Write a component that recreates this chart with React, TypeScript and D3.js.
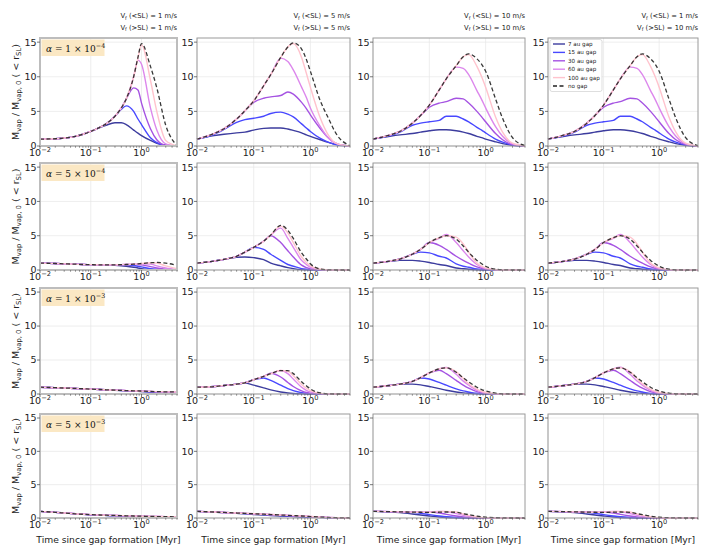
import * as d3 from "d3";

// sample times [Myr] shared by every series
const times = [0.01, 0.02, 0.03, 0.05, 0.07, 0.1, 0.15, 0.2, 0.3, 0.4, 0.5, 0.7, 0.85, 1, 1.5, 2, 3, 5];

const gapNames = ["7 au gap", "15 au gap", "30 au gap", "60 au gap", "100 au gap", "no gap"];
const gapColors = ["#3c3c9e", "#4848ff", "#a553e2", "#dc87ec", "#ffc3cd", "#222222"];

const alphaMant = ["1", "5", "1", "5"];
const alphaExp = ["−4", "−4", "−3", "−3"];
const vfInner = [1, 5, 10, 1];
const vfOuter = [1, 5, 10, 10];

const yTicks = [0, 5, 10, 15];
const xTicks = [0.01, 0.1, 1];
const xTickExp = ["−2", "−1", "0"];

// each panel: [7 au, 15 au, 30 au, 60 au, 100 au, no gap]
// alpha = 1e-4
const r1c1 = [
  [1.0, 1.05, 1.15, 1.4, 1.7, 2.1, 2.65, 3.0, 3.35, 3.35, 3.1, 2.3, 1.85, 1.5, 0.8, 0.4, 0.1, 0],
  [1.0, 1.05, 1.15, 1.4, 1.7, 2.1, 2.7, 3.2, 4.3, 5.3, 5.8, 5.0, 3.9, 3.1, 1.2, 0.5, 0.05, 0],
  [1.0, 1.05, 1.15, 1.4, 1.7, 2.1, 2.7, 3.2, 4.3, 5.5, 6.8, 8.4, 8.1, 6.2, 2.5, 0.9, 0.1, 0],
  [1.0, 1.05, 1.15, 1.4, 1.7, 2.1, 2.7, 3.2, 4.3, 5.5, 6.8, 10.0, 12.4, 11.8, 5.5, 2.3, 0.3, 0],
  [1.0, 1.05, 1.15, 1.4, 1.7, 2.1, 2.7, 3.2, 4.3, 5.5, 6.8, 10.0, 12.7, 14.6, 9.5, 5.0, 0.8, 0.02],
  [1.0, 1.05, 1.15, 1.4, 1.7, 2.1, 2.7, 3.2, 4.3, 5.5, 6.8, 10.0, 12.8, 14.8, 11.5, 8.4, 3.0, 0.05],
];
const r1c2 = [
  [1.0, 1.5, 1.7, 1.9, 2.0, 2.3, 2.55, 2.6, 2.6, 2.45, 2.25, 1.9, 1.6, 1.4, 0.9, 0.55, 0.2, 0.02],
  [1.0, 1.7, 2.4, 3.4, 3.8, 4.0, 4.3, 4.7, 4.9, 4.6, 4.2, 3.2, 2.6, 2.1, 1.1, 0.6, 0.15, 0],
  [1.0, 1.8, 2.5, 3.9, 5.1, 6.3, 6.9, 7.1, 7.3, 7.8, 7.5, 6.3, 5.4, 4.5, 2.5, 1.3, 0.3, 0],
  [1.0, 1.8, 2.5, 3.9, 5.1, 6.5, 8.7, 10.3, 12.7, 12.2, 11.0, 8.5, 7.0, 5.5, 2.8, 1.3, 0.3, 0],
  [1.0, 1.8, 2.5, 3.9, 5.1, 6.5, 8.7, 10.3, 12.8, 14.3, 14.8, 12.8, 10.5, 8.5, 4.0, 1.8, 0.3, 0],
  [1.0, 1.8, 2.5, 3.9, 5.1, 6.5, 8.7, 10.3, 12.8, 14.3, 14.9, 14.0, 12.5, 10.8, 6.5, 4.3, 1.5, 0.05],
];
const r1c3 = [
  [1.0, 1.4, 1.6, 1.8, 2.0, 2.2, 2.35, 2.35, 2.2, 2.0, 1.8, 1.4, 1.2, 1.0, 0.6, 0.35, 0.1, 0],
  [1.0, 1.5, 2.0, 3.0, 3.3, 3.5, 3.7, 4.3, 4.3, 3.9, 3.5, 2.7, 2.3, 1.9, 1.0, 0.55, 0.15, 0],
  [1.0, 1.6, 2.1, 3.3, 4.4, 5.6, 6.2, 6.4, 6.9, 6.8, 6.2, 5.0, 4.2, 3.5, 1.8, 0.9, 0.2, 0],
  [1.0, 1.6, 2.1, 3.3, 4.4, 5.9, 8.1, 9.7, 11.4, 11.2, 10.3, 8.0, 6.7, 5.5, 2.8, 1.4, 0.3, 0],
  [1.0, 1.6, 2.1, 3.3, 4.4, 5.9, 8.1, 9.7, 11.6, 12.9, 13.2, 11.5, 10.0, 8.5, 4.2, 2.0, 0.4, 0],
  [1.0, 1.6, 2.1, 3.3, 4.4, 5.9, 8.1, 9.7, 11.6, 12.9, 13.3, 12.6, 11.8, 10.8, 6.8, 4.0, 1.2, 0.05],
];
const r1c4 = [
  [1.0, 1.4, 1.6, 1.8, 2.0, 2.2, 2.35, 2.35, 2.2, 2.0, 1.8, 1.4, 1.2, 1.0, 0.6, 0.35, 0.1, 0],
  [1.0, 1.5, 2.0, 3.0, 3.3, 3.5, 3.7, 4.3, 4.3, 3.9, 3.5, 2.7, 2.3, 1.9, 1.0, 0.55, 0.15, 0],
  [1.0, 1.6, 2.1, 3.3, 4.4, 5.6, 6.2, 6.4, 6.9, 6.8, 6.2, 5.0, 4.2, 3.5, 1.8, 0.9, 0.2, 0],
  [1.0, 1.6, 2.1, 3.3, 4.4, 5.9, 8.1, 9.7, 11.4, 11.2, 10.3, 8.0, 6.7, 5.5, 2.8, 1.4, 0.3, 0],
  [1.0, 1.6, 2.1, 3.3, 4.4, 5.9, 8.1, 9.7, 11.6, 12.9, 13.2, 11.5, 10.0, 8.5, 4.2, 2.0, 0.4, 0],
  [1.0, 1.6, 2.1, 3.3, 4.4, 5.9, 8.1, 9.7, 11.6, 12.9, 13.3, 12.6, 11.8, 10.8, 6.8, 4.0, 1.2, 0.05],
];

// alpha = 5e-4
const r2c1 = [
  [1.0, 0.95, 0.9, 0.85, 0.8, 0.78, 0.75, 0.74, 0.7, 0.63, 0.55, 0.4, 0.3, 0.2, 0.08, 0.03, 0, 0],
  [1.0, 0.95, 0.9, 0.85, 0.8, 0.78, 0.75, 0.75, 0.75, 0.75, 0.75, 0.65, 0.55, 0.45, 0.2, 0.1, 0.02, 0],
  [1.0, 0.95, 0.9, 0.85, 0.8, 0.78, 0.75, 0.75, 0.75, 0.78, 0.8, 0.82, 0.8, 0.75, 0.5, 0.3, 0.1, 0],
  [1.0, 0.95, 0.9, 0.85, 0.8, 0.78, 0.75, 0.75, 0.75, 0.78, 0.8, 0.85, 0.9, 0.92, 0.85, 0.6, 0.3, 0.05],
  [1.0, 0.95, 0.9, 0.85, 0.8, 0.78, 0.75, 0.75, 0.75, 0.78, 0.8, 0.85, 0.9, 0.95, 1.05, 1.0, 0.6, 0.2],
  [1.0, 0.95, 0.9, 0.85, 0.8, 0.78, 0.75, 0.75, 0.75, 0.78, 0.8, 0.85, 0.9, 0.95, 1.05, 1.1, 1.0, 0.7],
];
const r2c2 = [
  [1.0, 1.3, 1.55, 1.85, 1.9, 1.8, 1.5, 1.0, 0.6, 0.35, 0.2, 0.05, 0.02, 0, 0, 0, 0, 0],
  [1.0, 1.3, 1.55, 2.0, 2.6, 3.3, 3.0, 2.3, 1.4, 0.8, 0.55, 0.2, 0.1, 0.05, 0, 0, 0, 0],
  [1.0, 1.3, 1.55, 2.0, 2.6, 3.3, 4.2, 5.0, 4.0, 2.8, 1.9, 0.7, 0.35, 0.15, 0.02, 0, 0, 0],
  [1.0, 1.3, 1.55, 2.0, 2.6, 3.3, 4.2, 5.1, 6.1, 4.6, 3.3, 1.4, 0.8, 0.4, 0.05, 0, 0, 0],
  [1.0, 1.3, 1.55, 2.0, 2.6, 3.3, 4.2, 5.1, 6.4, 5.4, 4.0, 1.9, 1.1, 0.6, 0.1, 0.02, 0, 0],
  [1.0, 1.3, 1.55, 2.0, 2.6, 3.3, 4.2, 5.1, 6.5, 5.8, 4.6, 2.5, 1.6, 0.9, 0.15, 0.03, 0, 0],
];
const r2c3 = [
  [1.0, 1.25, 1.4, 1.4, 1.3, 1.1, 0.8, 0.65, 0.3, 0.18, 0.1, 0.03, 0.01, 0, 0, 0, 0, 0],
  [1.0, 1.3, 1.6, 2.3, 2.6, 2.5, 2.0, 1.75, 0.9, 0.55, 0.4, 0.15, 0.07, 0.03, 0, 0, 0, 0],
  [1.0, 1.3, 1.6, 2.3, 3.0, 4.0, 3.6, 3.0, 2.0, 1.4, 1.0, 0.45, 0.25, 0.15, 0.02, 0, 0, 0],
  [1.0, 1.3, 1.6, 2.3, 3.0, 4.0, 4.6, 5.2, 4.0, 2.8, 1.9, 0.8, 0.4, 0.2, 0.03, 0, 0, 0],
  [1.0, 1.3, 1.6, 2.3, 3.0, 4.0, 4.7, 5.0, 4.8, 3.8, 2.6, 1.0, 0.55, 0.3, 0.05, 0, 0, 0],
  [1.0, 1.3, 1.6, 2.3, 3.0, 4.0, 4.7, 5.0, 4.5, 3.5, 2.6, 1.4, 0.9, 0.55, 0.12, 0.03, 0, 0],
];
const r2c4 = [
  [1.0, 1.25, 1.4, 1.4, 1.3, 1.1, 0.8, 0.65, 0.3, 0.18, 0.1, 0.03, 0.01, 0, 0, 0, 0, 0],
  [1.0, 1.3, 1.6, 2.3, 2.6, 2.5, 2.0, 1.75, 0.9, 0.55, 0.4, 0.15, 0.07, 0.03, 0, 0, 0, 0],
  [1.0, 1.3, 1.6, 2.3, 3.0, 4.0, 3.6, 3.0, 2.0, 1.4, 1.0, 0.45, 0.25, 0.15, 0.02, 0, 0, 0],
  [1.0, 1.3, 1.6, 2.3, 3.0, 4.0, 4.6, 5.2, 4.0, 2.8, 1.9, 0.8, 0.4, 0.2, 0.03, 0, 0, 0],
  [1.0, 1.3, 1.6, 2.3, 3.0, 4.0, 4.7, 5.0, 4.8, 3.8, 2.6, 1.0, 0.55, 0.3, 0.05, 0, 0, 0],
  [1.0, 1.3, 1.6, 2.3, 3.0, 4.0, 4.7, 5.0, 4.5, 3.5, 2.6, 1.4, 0.9, 0.55, 0.12, 0.03, 0, 0],
];

// alpha = 1e-3
const r3c1 = [
  [1.0, 0.93, 0.88, 0.82, 0.77, 0.72, 0.66, 0.62, 0.56, 0.51, 0.47, 0.42, 0.38, 0.35, 0.28, 0.24, 0.2, 0.15],
  [1.0, 0.93, 0.88, 0.82, 0.77, 0.72, 0.66, 0.62, 0.57, 0.52, 0.49, 0.45, 0.42, 0.4, 0.33, 0.3, 0.26, 0.22],
  [1.0, 0.93, 0.88, 0.82, 0.77, 0.72, 0.66, 0.62, 0.57, 0.53, 0.5, 0.47, 0.44, 0.42, 0.37, 0.33, 0.3, 0.27],
  [1.0, 0.93, 0.88, 0.82, 0.77, 0.72, 0.66, 0.62, 0.57, 0.53, 0.5, 0.47, 0.45, 0.43, 0.38, 0.35, 0.31, 0.29],
  [1.0, 0.93, 0.88, 0.82, 0.77, 0.72, 0.66, 0.62, 0.57, 0.53, 0.5, 0.47, 0.45, 0.43, 0.38, 0.35, 0.32, 0.3],
  [1.0, 0.93, 0.88, 0.82, 0.77, 0.72, 0.66, 0.62, 0.57, 0.53, 0.5, 0.47, 0.45, 0.43, 0.38, 0.35, 0.32, 0.3],
];
const r3c2 = [
  [1.0, 1.1, 1.25, 1.45, 1.6, 1.3, 0.9, 0.6, 0.3, 0.15, 0.08, 0.02, 0, 0, 0, 0, 0, 0],
  [1.0, 1.1, 1.25, 1.45, 1.65, 2.1, 2.35, 2.0, 1.3, 0.8, 0.5, 0.2, 0.1, 0.05, 0, 0, 0, 0],
  [1.0, 1.1, 1.25, 1.45, 1.65, 2.1, 2.6, 3.05, 2.5, 1.7, 1.1, 0.45, 0.22, 0.12, 0.02, 0, 0, 0],
  [1.0, 1.1, 1.25, 1.45, 1.65, 2.1, 2.6, 3.0, 3.45, 3.0, 2.2, 1.0, 0.55, 0.3, 0.05, 0, 0, 0],
  [1.0, 1.1, 1.25, 1.45, 1.65, 2.1, 2.6, 3.0, 3.45, 3.35, 2.7, 1.4, 0.85, 0.5, 0.1, 0.02, 0, 0],
  [1.0, 1.1, 1.25, 1.45, 1.65, 2.1, 2.6, 3.0, 3.45, 3.45, 3.0, 1.8, 1.2, 0.75, 0.15, 0.03, 0, 0],
];
const r3c3 = [
  [1.0, 1.25, 1.45, 1.45, 1.35, 1.1, 0.8, 0.55, 0.3, 0.17, 0.1, 0.03, 0.01, 0, 0, 0, 0, 0],
  [1.0, 1.25, 1.45, 1.85, 2.35, 2.2, 1.7, 1.3, 0.75, 0.45, 0.3, 0.1, 0.05, 0.03, 0, 0, 0, 0],
  [1.0, 1.25, 1.45, 1.85, 2.4, 3.1, 3.5, 3.0, 2.0, 1.3, 0.85, 0.35, 0.2, 0.1, 0.01, 0, 0, 0],
  [1.0, 1.25, 1.45, 1.85, 2.4, 3.1, 3.7, 3.9, 2.9, 1.9, 1.3, 0.55, 0.3, 0.15, 0.03, 0, 0, 0],
  [1.0, 1.25, 1.45, 1.85, 2.4, 3.1, 3.7, 3.85, 3.3, 2.3, 1.5, 0.7, 0.4, 0.25, 0.05, 0.01, 0, 0],
  [1.0, 1.25, 1.45, 1.85, 2.4, 3.1, 3.7, 3.85, 3.2, 2.4, 1.8, 1.0, 0.65, 0.45, 0.12, 0.03, 0, 0],
];
const r3c4 = [
  [1.0, 1.25, 1.45, 1.45, 1.35, 1.1, 0.8, 0.55, 0.3, 0.17, 0.1, 0.03, 0.01, 0, 0, 0, 0, 0],
  [1.0, 1.25, 1.45, 1.85, 2.35, 2.2, 1.7, 1.3, 0.75, 0.45, 0.3, 0.1, 0.05, 0.03, 0, 0, 0, 0],
  [1.0, 1.25, 1.45, 1.85, 2.4, 3.1, 3.5, 3.0, 2.0, 1.3, 0.85, 0.35, 0.2, 0.1, 0.01, 0, 0, 0],
  [1.0, 1.25, 1.45, 1.85, 2.4, 3.1, 3.7, 3.95, 2.9, 1.9, 1.3, 0.55, 0.3, 0.15, 0.03, 0, 0, 0],
  [1.0, 1.25, 1.45, 1.85, 2.4, 3.1, 3.7, 3.85, 3.3, 2.3, 1.5, 0.7, 0.4, 0.25, 0.05, 0.01, 0, 0],
  [1.0, 1.25, 1.45, 1.85, 2.4, 3.1, 3.7, 3.85, 3.2, 2.4, 1.8, 1.0, 0.65, 0.45, 0.12, 0.03, 0, 0],
];

// alpha = 5e-3
const r4c1 = [
  [1.0, 0.85, 0.75, 0.62, 0.55, 0.48, 0.42, 0.38, 0.33, 0.3, 0.27, 0.24, 0.22, 0.2, 0.17, 0.15, 0.12, 0.1],
  [1.0, 0.85, 0.75, 0.63, 0.55, 0.49, 0.44, 0.4, 0.36, 0.33, 0.3, 0.27, 0.25, 0.24, 0.21, 0.19, 0.16, 0.13],
  [1.0, 0.85, 0.75, 0.63, 0.56, 0.5, 0.45, 0.42, 0.38, 0.35, 0.33, 0.3, 0.28, 0.27, 0.24, 0.22, 0.19, 0.16],
  [1.0, 0.85, 0.75, 0.63, 0.56, 0.5, 0.45, 0.42, 0.38, 0.35, 0.33, 0.3, 0.28, 0.27, 0.24, 0.22, 0.2, 0.17],
  [1.0, 0.85, 0.75, 0.63, 0.56, 0.5, 0.45, 0.42, 0.38, 0.35, 0.33, 0.3, 0.28, 0.27, 0.24, 0.22, 0.2, 0.17],
  [1.0, 0.85, 0.75, 0.63, 0.56, 0.5, 0.45, 0.42, 0.38, 0.35, 0.33, 0.3, 0.28, 0.27, 0.24, 0.22, 0.2, 0.17],
];
const r4c2 = [
  [1.0, 0.88, 0.8, 0.7, 0.62, 0.52, 0.45, 0.38, 0.3, 0.25, 0.22, 0.16, 0.13, 0.11, 0.07, 0.05, 0.02, 0],
  [1.0, 0.9, 0.82, 0.73, 0.66, 0.58, 0.5, 0.44, 0.37, 0.32, 0.28, 0.22, 0.18, 0.15, 0.1, 0.06, 0.03, 0.01],
  [1.0, 0.9, 0.83, 0.75, 0.69, 0.62, 0.56, 0.5, 0.43, 0.38, 0.34, 0.28, 0.24, 0.2, 0.13, 0.08, 0.04, 0.01],
  [1.0, 0.9, 0.83, 0.75, 0.7, 0.63, 0.57, 0.52, 0.45, 0.4, 0.36, 0.3, 0.26, 0.22, 0.14, 0.09, 0.04, 0.01],
  [1.0, 0.9, 0.83, 0.75, 0.7, 0.63, 0.57, 0.52, 0.45, 0.4, 0.36, 0.3, 0.26, 0.22, 0.14, 0.09, 0.04, 0.01],
  [1.0, 0.9, 0.83, 0.75, 0.7, 0.63, 0.57, 0.52, 0.45, 0.4, 0.36, 0.3, 0.26, 0.22, 0.14, 0.09, 0.04, 0.01],
];
const r4c3 = [
  [1.0, 0.9, 0.8, 0.6, 0.45, 0.3, 0.15, 0.08, 0.03, 0.01, 0, 0, 0, 0, 0, 0, 0, 0],
  [1.0, 0.95, 0.92, 0.85, 0.7, 0.5, 0.3, 0.18, 0.08, 0.04, 0.02, 0, 0, 0, 0, 0, 0, 0],
  [1.0, 0.95, 0.92, 0.88, 0.88, 0.88, 0.75, 0.55, 0.3, 0.17, 0.1, 0.03, 0.01, 0, 0, 0, 0, 0],
  [1.0, 0.95, 0.92, 0.88, 0.86, 0.9, 1.0, 0.95, 0.65, 0.4, 0.25, 0.1, 0.05, 0.03, 0, 0, 0, 0],
  [1.0, 0.95, 0.92, 0.88, 0.86, 0.87, 0.95, 1.0, 0.9, 0.6, 0.4, 0.18, 0.1, 0.06, 0.01, 0, 0, 0],
  [1.0, 0.95, 0.92, 0.88, 0.86, 0.85, 0.87, 0.9, 0.85, 0.65, 0.5, 0.28, 0.18, 0.12, 0.04, 0.01, 0, 0],
];
const r4c4 = [
  [1.0, 0.9, 0.8, 0.6, 0.45, 0.3, 0.15, 0.08, 0.03, 0.01, 0, 0, 0, 0, 0, 0, 0, 0],
  [1.0, 0.95, 0.92, 0.85, 0.7, 0.5, 0.3, 0.18, 0.08, 0.04, 0.02, 0, 0, 0, 0, 0, 0, 0],
  [1.0, 0.95, 0.92, 0.88, 0.88, 0.88, 0.75, 0.55, 0.3, 0.17, 0.1, 0.03, 0.01, 0, 0, 0, 0, 0],
  [1.0, 0.95, 0.92, 0.88, 0.86, 0.9, 1.0, 0.95, 0.65, 0.4, 0.25, 0.1, 0.05, 0.03, 0, 0, 0, 0],
  [1.0, 0.95, 0.92, 0.88, 0.86, 0.87, 0.95, 1.0, 0.9, 0.6, 0.4, 0.18, 0.1, 0.06, 0.01, 0, 0, 0],
  [1.0, 0.95, 0.92, 0.88, 0.86, 0.85, 0.87, 0.9, 0.85, 0.65, 0.5, 0.28, 0.18, 0.12, 0.04, 0.01, 0, 0],
];

const grid = [
  [r1c1, r1c2, r1c3, r1c4],
  [r2c1, r2c2, r2c3, r2c4],
  [r3c1, r3c2, r3c3, r3c4],
  [r4c1, r4c2, r4c3, r4c4],
];

// panel frames in px
const colLeft = [40, 197, 373, 548];
const colRight = [177, 350, 525, 698];
const rowTop = [38, 163, 288, 414];
const rowBottom = [146, 270, 394, 518];

const TICK_FS = 9.5;

function Panel({ r, c }: { r: number; c: number }) {
  const data = grid[r][c];
  const x0 = colLeft[c], x1 = colRight[c], y0 = rowTop[r], y1 = rowBottom[r];
  const x = d3.scaleLog().domain([0.01, 5]).range([x0, x1]);
  const y = d3.scaleLinear().domain([0, 15.6]).range([y1, y0]);
  const line = d3
    .line<number>()
    .x((_, i) => x(times[i]))
    .y((v) => y(v))
    .curve(d3.curveMonotoneX);
  const minor = x.ticks().filter((t) => !xTicks.some((m) => Math.abs(m - t) < 1e-9));
  const first = c === 0;

  return (
    <g>
      {/* grid */}
      {xTicks.map((t) => (
        <line key={"gx" + t} x1={x(t)} x2={x(t)} y1={y0} y2={y1} stroke="#e6e6e6" strokeWidth={0.7} />
      ))}
      {yTicks.map((t) => (
        <line key={"gy" + t} x1={x0} x2={x1} y1={y(t)} y2={y(t)} stroke="#e6e6e6" strokeWidth={0.7} />
      ))}

      {/* series */}
      {data.map((s, i) => (
        <path
          key={i}
          d={line(s) || ""}
          fill="none"
          stroke={gapColors[i]}
          strokeWidth={i === 5 ? 1.3 : 1.4}
          strokeDasharray={i === 5 ? "4,2.5" : undefined}
          strokeOpacity={i === 5 ? 0.9 : 1}
        />
      ))}

      {/* frame */}
      <rect
        x={x0}
        y={y0}
        width={x1 - x0}
        height={y1 - y0}
        fill="none"
        stroke={first ? "#bdbdbd" : "#9a9a9a"}
        strokeWidth={first ? 2 : 1}
      />

      {/* ticks */}
      {minor.map((t) => (
        <line key={"mx" + t} x1={x(t)} x2={x(t)} y1={y1} y2={y1 + 1.8} stroke="#555" strokeWidth={0.6} />
      ))}
      {xTicks.map((t, i) => (
        <g key={"tx" + t}>
          <line x1={x(t)} x2={x(t)} y1={y1} y2={y1 + 3} stroke="#555" strokeWidth={0.8} />
          <text x={x(t)} y={y1 + 9.5} textAnchor="middle" fontSize={TICK_FS} fill="#222">
            10
            <tspan dy={-4} fontSize={TICK_FS * 0.7}>
              {xTickExp[i]}
            </tspan>
          </text>
        </g>
      ))}
      {yTicks.map((t) => (
        <g key={"ty" + t}>
          <line x1={x0 - 3} x2={x0} y1={y(t)} y2={y(t)} stroke="#555" strokeWidth={0.8} />
          <text x={x0 - 3.5} y={y(t) + 3.4} textAnchor="end" fontSize={TICK_FS} fill="#222">
            {t}
          </text>
        </g>
      ))}

      {/* alpha badge */}
      {first && (
        <g>
          <rect x={x0 + 1.5} y={y0 + 1.5} width={63} height={16.5} fill="#fbe8c4" />
          <text x={x0 + 6} y={y0 + 13.5} fontSize={9} fontFamily="DejaVu Serif" fill="#111">
            <tspan fontStyle="italic">α</tspan>
            {" = " + alphaMant[r] + " × 10"}
            <tspan dy={-3.6} fontSize={6.4}>
              {alphaExp[r]}
            </tspan>
          </text>
        </g>
      )}

      {/* y label */}
      {first && (
        <text
          transform={`translate(19,${(y0 + y1) / 2}) rotate(-90)`}
          textAnchor="middle"
          fontSize={9.5}
          fill="#222"
        >
          M
          <tspan dy={2.3} fontSize={6.8}>vap</tspan>
          <tspan dy={-2.3}> / M</tspan>
          <tspan dy={2.3} fontSize={6.8}>vap, 0</tspan>
          <tspan dy={-2.3}> ( &lt; r</tspan>
          <tspan dy={2.3} fontSize={6.8}>SL</tspan>
          <tspan dy={-2.3}>)</tspan>
        </text>
      )}

      {/* column titles */}
      {r === 0 && (
        <g fontSize={6.8} fill="#222" textAnchor="end">
          <text x={x1} y={18}>
            V<tspan dy={1.5} fontSize={4.8}>f</tspan>
            <tspan dy={-1.5}>{` (<SL) = ${vfInner[c]} m/s`}</tspan>
          </text>
          <text x={x1} y={29.5}>
            V<tspan dy={1.5} fontSize={4.8}>f</tspan>
            <tspan dy={-1.5}>{` (>SL) = ${vfOuter[c]} m/s`}</tspan>
          </text>
        </g>
      )}

      {/* x label */}
      {r === 3 && (
        <text x={(x0 + x1) / 2} y={543} textAnchor="middle" fontSize={9.2} fill="#222">
          Time since gap formation [Myr]
        </text>
      )}

      {/* legend */}
      {r === 0 && c === 3 && (
        <g>
          <rect x={550} y={39.5} width={52} height={52} rx={2} fill="#fff" fillOpacity={0.85} stroke="#d0d0d0" strokeWidth={0.7} />
          {gapNames.map((name, i) => {
            const ly = 44 + i * 8.4;
            return (
              <g key={name}>
                <line
                  x1={553}
                  x2={565}
                  y1={ly}
                  y2={ly}
                  stroke={gapColors[i]}
                  strokeWidth={1.4}
                  strokeDasharray={i === 5 ? "4,2.5" : undefined}
                />
                <text x={568} y={ly + 2} fontSize={5.6} fill="#222">
                  {name}
                </text>
              </g>
            );
          })}
        </g>
      )}
    </g>
  );
}

export default function App() {
  return (
    <svg
      width={715}
      height={553}
      style={{ position: "absolute", left: 0, top: 0, background: "#fff" }}
      fontFamily="DejaVu Sans"
    >
      {grid.map((row, r) => row.map((_, c) => <Panel key={r + "-" + c} r={r} c={c} />))}
    </svg>
  );
}
